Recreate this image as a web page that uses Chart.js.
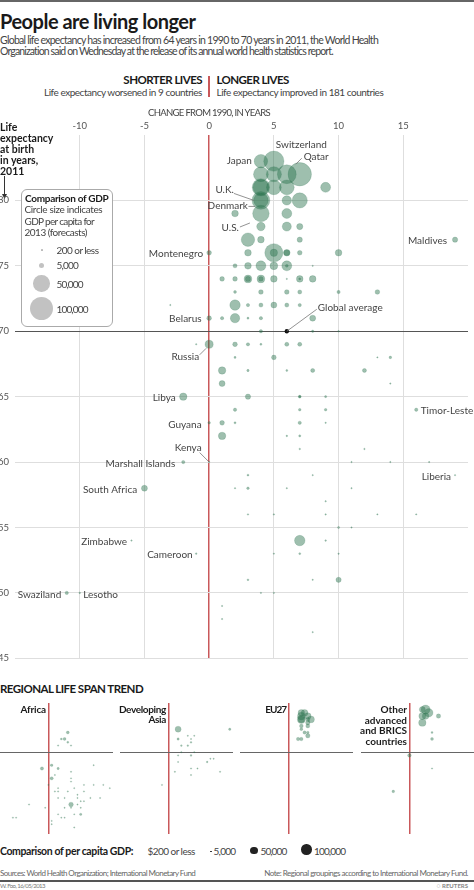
<!DOCTYPE html>
<html>
<head>
<meta charset="utf-8">
<script src="https://cdn.jsdelivr.net/npm/chart.js@4.4.1/dist/chart.umd.min.js"></script>
<style>
  body { margin: 0; background: #fff; }
  #page { position: relative; width: 474px; height: 890px; overflow: hidden; font-family: Lato, sans-serif; color: #444; }
  .t { position: absolute; white-space: nowrap; }
  canvas { position: absolute; }
  .dot { position: absolute; border-radius: 50%; }
</style>
</head>
<body>
<div id="page">
  <div style="position:absolute;left:0;top:0;width:474px;height:2px;background:#666"></div>
  <div style="position:absolute;left:208px;top:76px;width:1.5px;height:21px;background:#c9585a"></div>
  <div style="position:absolute;left:21px;top:189px;width:90px;height:136px;border:1px solid #aaa;border-radius:6px;background:#fff;z-index:2"></div>
  <svg style="position:absolute;left:0;top:175px" width="10" height="26">
    <line x1="4.5" y1="1" x2="4.5" y2="20" stroke="#333" stroke-width="1"/>
    <polygon points="2,19 7,19 4.5,24" fill="#333"/>
  </svg>
  <canvas id="main" width="474" height="555" style="left:0;top:115px"></canvas>
  <canvas id="p0" width="113" height="131" style="left:0;top:703px"></canvas>
  <canvas id="p1" width="113" height="131" style="left:120px;top:703px"></canvas>
  <canvas id="p2" width="113" height="131" style="left:240px;top:703px"></canvas>
  <canvas id="p3" width="113" height="131" style="left:361px;top:703px"></canvas>
  <div style="position:absolute;left:0;top:880px;width:474px;height:1.5px;background:#555"></div>
</div>
<script>
// axis ticks
const xTicks = [-10, -5, 0, 5, 10, 15];
const yTicks = [45, 50, 55, 60, 65, 70, 75, 80];

// [change from 1990 in years, life expectancy 2011, GDP per capita 2013]
const africa = [
  [6, 76, 8000], [4, 74, 4000], [5, 74, 8000], [6, 73, 4000], [3, 72, 2000], [7, 72, 2000],
  [1, 66, 6500], [14, 66, 300], [-2, 65, 10000], [3, 65, 5000], [7, 64, 1200], [2, 63, 800],
  [1, 62, 10000], [7, 62, 800], [7, 61, 500], [0, 60, 300], [11, 60, 300], [14, 60, 300],
  [17, 60, 300], [3, 59, 700], [8, 59, 300], [19, 59, 200], [2, 58, 200], [3, 58, 1200],
  [6, 58, 300], [11, 58, 200], [9, 57, 400], [3, 56, 400], [5, 56, 400], [9, 56, 400],
  [13, 56, 300], [16, 56, 200], [10, 55, 800], [11, 55, 300], [-6, 54, 400], [7, 54, 20000],
  [9, 54, 500], [-1, 53, 500], [5, 53, 200], [7, 53, 700], [10, 53, 400], [3, 51, 600],
  [8, 51, 300], [10, 51, 5000], [-11, 50, 2000], [-10, 50, 500], [4, 50, 200], [5, 50, 300],
  [1, 49, 200], [1, 48, 300], [8, 47, 300]
];
const devAsia = [
  [3, 77, 33000], [19, 77, 5000], [3, 74, 5000], [6, 75, 1500], [8, 75, 300], [7, 74, 800],
  [7, 73, 3000], [4, 72, 3000], [6, 72, 3000], [4, 70, 2000], [8, 70, 1000], [3, 69, 2000],
  [7, 69, 3000], [13, 68, 300], [14, 68, 1200], [3, 67, 1000], [12, 67, 3000], [7, 65, 800],
  [9, 65, 800], [2, 64, 2000], [16, 64, 2000], [7, 63, 2000], [-2, 60, 2000]
];
const eu27 = [
  [4, 82, 40000], [5, 82, 42000], [4, 81, 55000], [6, 81, 40000], [4, 80, 39000], [4, 80, 58000],
  [6, 80, 16000], [7, 80, 42000], [6, 79, 18000], [4, 78, 13000], [6, 78, 15000], [4, 77, 8000],
  [5, 76, 10000], [6, 76, 6000], [6, 75, 18000], [3, 74, 11000], [4, 74, 11000]
];
const advBrics = [
  [4, 83, 33000], [5, 83, 75000], [6, 82, 65000], [4, 81, 45000], [5, 81, 40000], [9, 81, 18000],
  [4, 79, 50000], [7, 76, 4000], [7, 74, 8000], [0, 69, 12000], [7, 65, 1500], [-5, 58, 6500]
];
const otherRegions = [
  [7, 82, 100000], [2, 79, 8000], [7, 78, 7000], [7, 77, 5000], [0, 76, 4000], [3, 76, 8000],
  [5, 76, 60000], [10, 76, 8000], [2, 75, 3000], [3, 75, 8000], [4, 75, 18000], [5, 75, 11000],
  [1, 74, 4000], [2, 74, 4000], [6, 74, 200], [8, 74, 8000], [2, 73, 1500], [4, 73, 4000],
  [10, 73, 2000], [13, 73, 4000], [-3, 72, 200], [2, 72, 20000], [5, 72, 6500], [0, 71, 4000],
  [1, 71, 2000], [2, 71, 16000], [3, 71, 800], [4, 71, 2000], [8, 71, 6500], [10, 70, 500],
  [-1, 69, 200], [2, 69, 4000], [4, 69, 800], [6, 69, 3000], [2, 68, 800], [5, 68, 4000],
  [1, 67, 10000], [6, 67, 700], [8, 67, 3000], [9, 64, 1200], [0, 63, 1200], [1, 63, 4000],
  [9, 63, 400], [6, 62, 500], [12, 61, 400]
];
const globalAverage = [6, 70];

// labelled countries
const labelNames = ['Switzerland', 'Qatar', 'Japan', 'U.K.', 'Denmark', 'U.S.', 'Montenegro', 'Maldives',
  'Global average', 'Belarus', 'Russia', 'Libya', 'Guyana', 'Kenya', 'Marshall Islands', 'South Africa',
  'Timor-Leste', 'Liberia', 'Zimbabwe', 'Cameroon', 'Swaziland', 'Lesotho'];
const labelX = [5, 7, 4, 4, 4, 4, 0, 19, 6, 0, 0, -2, 0, 0, -2, -5, 16, 19, -6, -1, -11, -10];
const labelY = [83, 82, 83, 80, 80, 79, 76, 77, 70, 71, 69, 65, 63, 60, 60, 58, 64, 59, 54, 53, 50, 50];

// text offsets from the point, in pixels
const labelLayout = {
  'Switzerland': { dx: 2, dy: -16, align: 'left' },
  'Qatar': { dx: 4, dy: -17, align: 'left', line: [2, -16, -4, -10] },
  'Japan': { dx: -9, dy: 0, align: 'right' },
  'U.K.': { dx: -27, dy: -11, align: 'right', line: [-27, -7, -7, 0] },
  'Denmark': { dx: -13, dy: 5.5, align: 'right', line: [-12.5, 6, -6, 6] },
  'U.S.': { dx: -22, dy: 14, align: 'right', line: [-21, 13.5, -11, 9.5] },
  'Montenegro': { dx: -6, dy: 1, align: 'right' },
  'Maldives': { dx: -8, dy: 1, align: 'right' },
  'Global average': { dx: 31, dy: -23, align: 'left', line: [30, -22, 0, 0] },
  'Belarus': { dx: -7.5, dy: 0.5, align: 'right' },
  'Russia': { dx: -10, dy: 12, align: 'right', line: [-9.5, 10.5, -3, 4] },
  'Libya': { dx: -7.5, dy: 1.5, align: 'right' },
  'Guyana': { dx: -7.5, dy: 1.5, align: 'right' },
  'Kenya': { dx: -7.5, dy: -14.5, align: 'right', line: [-9.5, -9.5, 0, 0] },
  'Marshall Islands': { dx: -8, dy: 1.5, align: 'right' },
  'South Africa': { dx: -7.3, dy: 1.5, align: 'right' },
  'Timor-Leste': { dx: 4.5, dy: 1.5, align: 'left' },
  'Liberia': { dx: -4, dy: 1.5, align: 'right' },
  'Zimbabwe': { dx: -4.5, dy: 1.5, align: 'right' },
  'Cameroon': { dx: -3.5, dy: 1.5, align: 'right' },
  'Swaziland': { dx: -5.5, dy: 1.5, align: 'right' },
  'Lesotho': { dx: 3.5, dy: 1.5, align: 'left' }
};

const GREEN = 'rgba(40, 112, 76, 0.45)';
const GREEN_EDGE = 'rgba(40, 112, 76, 0.3)';
const RED = '#c9585a';
const R_100K = 11.7;

const page = document.getElementById('page');

function put(text, x, y, o = {}) {
  const d = document.createElement('div');
  d.className = 't';
  d.textContent = text;
  d.style.fontSize = (o.size || 10) + 'px';
  d.style.lineHeight = '16px';
  d.style.top = (y - 8) + 'px';
  d.style.zIndex = 3;
  if (o.bold) { d.style.fontWeight = 'bold'; d.style.color = '#1a1a1a'; }
  if (o.color) d.style.color = o.color;
  if (o.align === 'right') d.style.right = (474 - x) + 'px';
  else if (o.align === 'center') { d.style.left = x + 'px'; d.style.transform = 'translateX(-50%)'; }
  else d.style.left = x + 'px';
  page.appendChild(d);
  if (o.w) {
    const diff = o.w - d.offsetWidth;
    d.style.letterSpacing = (diff / text.length) + 'px';
  }
}

function dot(cx, cy, r, color) {
  const d = document.createElement('div');
  d.className = 'dot';
  d.style.left = (cx - r) + 'px';
  d.style.top = (cy - r) + 'px';
  d.style.width = d.style.height = (2 * r) + 'px';
  d.style.background = color;
  d.style.zIndex = 3;
  page.appendChild(d);
}

function radius(gdp, k) {
  return Math.max(0.7, R_100K * k * Math.sqrt(gdp / 100000));
}

function toBubbles(points, k) {
  return points.slice().sort((a, b) => b[2] - a[2])
    .map(p => ({ x: p[0], y: p[1], r: radius(p[2], k) }));
}

// header texts
put('People are living longer', 0, 20.5, { size: 20, bold: true, w: 195 });
put('Global life expectancy has increased from 64 years in 1990 to 70 years in 2011, the World Health', 0, 39.5, { size: 10.5, w: 378 });
put('Organization said on Wednesday at the release of its annual world health statistics report.', 0, 50.5, { size: 10.5, w: 333 });
put('SHORTER LIVES', 202, 80, { size: 11.5, bold: true, align: 'right', w: 79 });
put('LONGER LIVES', 216.5, 80, { size: 11.5, bold: true, w: 72 });
put('Life expectancy worsened in 9 countries', 202, 92, { size: 10, align: 'right', w: 158 });
put('Life expectancy improved in 181 countries', 216.5, 92, { size: 10, w: 167 });
put('CHANGE FROM 1990, IN YEARS', 209, 112.5, { size: 9.5, align: 'center', w: 122 });

['Life', 'expectancy', 'at birth', 'in years,', '2011'].forEach((s, i) => {
  put(s, 0, 126.5 + i * 11, { size: 10.5, bold: true });
});

// GDP legend box
put('Comparison of GDP', 25, 197.5, { size: 10, bold: true, w: 83 });
put('Circle size indicates', 24.5, 209.3, { size: 10, w: 77.5 });
put('GDP per capita for', 24.5, 220.7, { size: 10, w: 70 });
put('2013 (forecasts)', 24.5, 232, { size: 10, w: 62 });
put('200 or less', 56.5, 249.5, { size: 10, w: 42 });
put('5,000', 56.5, 265, { size: 10, w: 21 });
put('50,000', 56.5, 283.5, { size: 10, w: 26 });
put('100,000', 56.5, 309, { size: 10, w: 31 });
dot(42, 250, 0.6, '#bbb');
dot(41.7, 265.3, radius(5000, 1), '#c2c2c2');
dot(41.7, 283.3, radius(50000, 1), '#c2c2c2');
dot(41.7, 308.5, radius(100000, 1), '#c2c2c2');

// bottom section texts
put('REGIONAL LIFE SPAN TREND', 0, 689, { size: 11.5, bold: true, w: 143 });
put('Africa', 46, 709, { size: 10, bold: true, align: 'right', w: 25 });
put('Developing', 166, 709, { size: 10, bold: true, align: 'right', w: 47.5 });
put('Asia', 166, 719, { size: 10, bold: true, align: 'right', w: 17.5 });
put('EU27', 286, 709, { size: 10, bold: true, align: 'right', w: 21 });
['Other', 'advanced', 'and BRICS', 'countries'].forEach((s, i) => {
  put(s, 407, 709 + i * 10.7, { size: 10, bold: true, align: 'right' });
});

put('Comparison of per capita GDP:', 0, 851, { size: 10.5, bold: true, w: 133 });
put('$200 or less', 147.5, 851, { size: 10, w: 47.5 });
put('5,000', 213.5, 851, { size: 10, w: 21.5 });
put('50,000', 260.5, 851, { size: 10, w: 25.5 });
put('100,000', 314, 851, { size: 10, w: 31 });
dot(211, 851.5, 0.9, '#222');
dot(254, 850.5, radius(50000, 0.45), '#222');
dot(306.7, 849.5, radius(100000, 0.45), '#222');

put('Sources: World Health Organization; International Monetary Fund', 0, 872.5, { size: 8, color: '#666', w: 196 });
put('Note: Regional groupings according to International Monetary Fund.', 468, 872.5, { size: 8, color: '#666', align: 'right', w: 204 });
put('W. Foo, 16/05/2013', 0, 886, { size: 6, color: '#777', w: 45 });
put('\u25CC REUTERS', 468, 886, { size: 6, bold: true, color: '#888', align: 'right', w: 31 });

// country labels drawn on the main chart
const labelPlugin = {
  id: 'countryLabels',
  afterDatasetsDraw(chart) {
    const { ctx, scales: { x, y } } = chart;
    ctx.save();
    ctx.font = '10px Lato';
    ctx.fillStyle = '#444';
    ctx.strokeStyle = '#777';
    ctx.lineWidth = 0.8;
    ctx.textBaseline = 'middle';
    labelNames.forEach((name, i) => {
      const px = x.getPixelForValue(labelX[i]);
      const py = y.getPixelForValue(labelY[i]);
      const l = labelLayout[name];
      ctx.textAlign = l.align;
      ctx.fillText(name, px + l.dx, py + l.dy);
      if (l.line) {
        ctx.beginPath();
        ctx.moveTo(px + l.line[0], py + l.line[1]);
        ctx.lineTo(px + l.line[2], py + l.line[3]);
        ctx.stroke();
      }
    });
    ctx.restore();
  }
};

const allPoints = [].concat(africa, devAsia, eu27, advBrics, otherRegions);

new Chart(document.getElementById('main'), {
  type: 'bubble',
  data: {
    datasets: [{
      data: toBubbles(allPoints, 1),
      backgroundColor: GREEN,
      borderColor: GREEN_EDGE,
      borderWidth: 0.6,
      clip: false
    }, {
      data: [{ x: globalAverage[0], y: globalAverage[1], r: 2.2 }],
      backgroundColor: '#111',
      borderWidth: 0
    }]
  },
  options: {
    responsive: false,
    animation: false,
    events: [],
    layout: { autoPadding: false, padding: { left: 0, right: 6, top: 0, bottom: 4 } },
    plugins: { legend: { display: false }, tooltip: { enabled: false } },
    scales: {
      x: {
        position: 'top',
        min: -15,
        max: 20,
        afterFit: s => { s.height = 20; s.paddingLeft = 0; s.paddingRight = 0; },
        border: { display: false },
        grid: {
          drawTicks: false,
          color: c => c.tick.value === 0 ? RED : (xTicks.includes(c.tick.value) ? '#dedede' : 'rgba(0,0,0,0)'),
          lineWidth: c => c.tick.value === 0 ? 1.5 : 1
        },
        ticks: {
          stepSize: 5,
          padding: 3,
          color: '#555',
          font: { family: 'Lato', size: 9.5 },
          maxRotation: 0,
          autoSkip: false,
          callback: v => xTicks.includes(v) ? String(v) : ''
        }
      },
      y: {
        min: 45,
        max: 85,
        afterFit: s => { s.width = 15; },
        border: { display: false },
        grid: {
          drawTicks: false,
          color: c => c.tick.value === 70 ? '#555' : (yTicks.includes(c.tick.value) ? '#dedede' : 'rgba(0,0,0,0)')
        },
        ticks: {
          stepSize: 5,
          padding: 6,
          color: '#555',
          font: { family: 'Lato', size: 9.5 },
          callback: v => yTicks.includes(v) ? String(v) : ''
        }
      }
    }
  },
  plugins: [labelPlugin]
});

// regional small multiples
function makePanel(id, points) {
  new Chart(document.getElementById(id), {
    type: 'bubble',
    data: {
      datasets: [{
        data: toBubbles(points, 0.45),
        backgroundColor: GREEN,
        borderColor: GREEN_EDGE,
        borderWidth: 0.4,
        clip: false
      }]
    },
    options: {
      responsive: false,
      animation: false,
      events: [],
      layout: { autoPadding: false, padding: 0 },
      plugins: { legend: { display: false }, tooltip: { enabled: false } },
      scales: {
        x: {
          min: -15, max: 20,
          afterFit: s => { s.height = 0; },
          border: { display: false },
          ticks: { display: false, stepSize: 5 },
          grid: { drawTicks: false, lineWidth: 1.5, color: c => c.tick.value === 0 ? RED : 'rgba(0,0,0,0)' }
        },
        y: {
          min: 45, max: 85,
          afterFit: s => { s.width = 0; },
          border: { display: false },
          ticks: { display: false, stepSize: 5 },
          grid: { drawTicks: false, color: c => c.tick.value === 70 ? '#666' : 'rgba(0,0,0,0)' }
        }
      }
    }
  });
}

makePanel('p0', africa);
makePanel('p1', devAsia);
makePanel('p2', eu27);
makePanel('p3', advBrics);
</script>
</body>
</html>
